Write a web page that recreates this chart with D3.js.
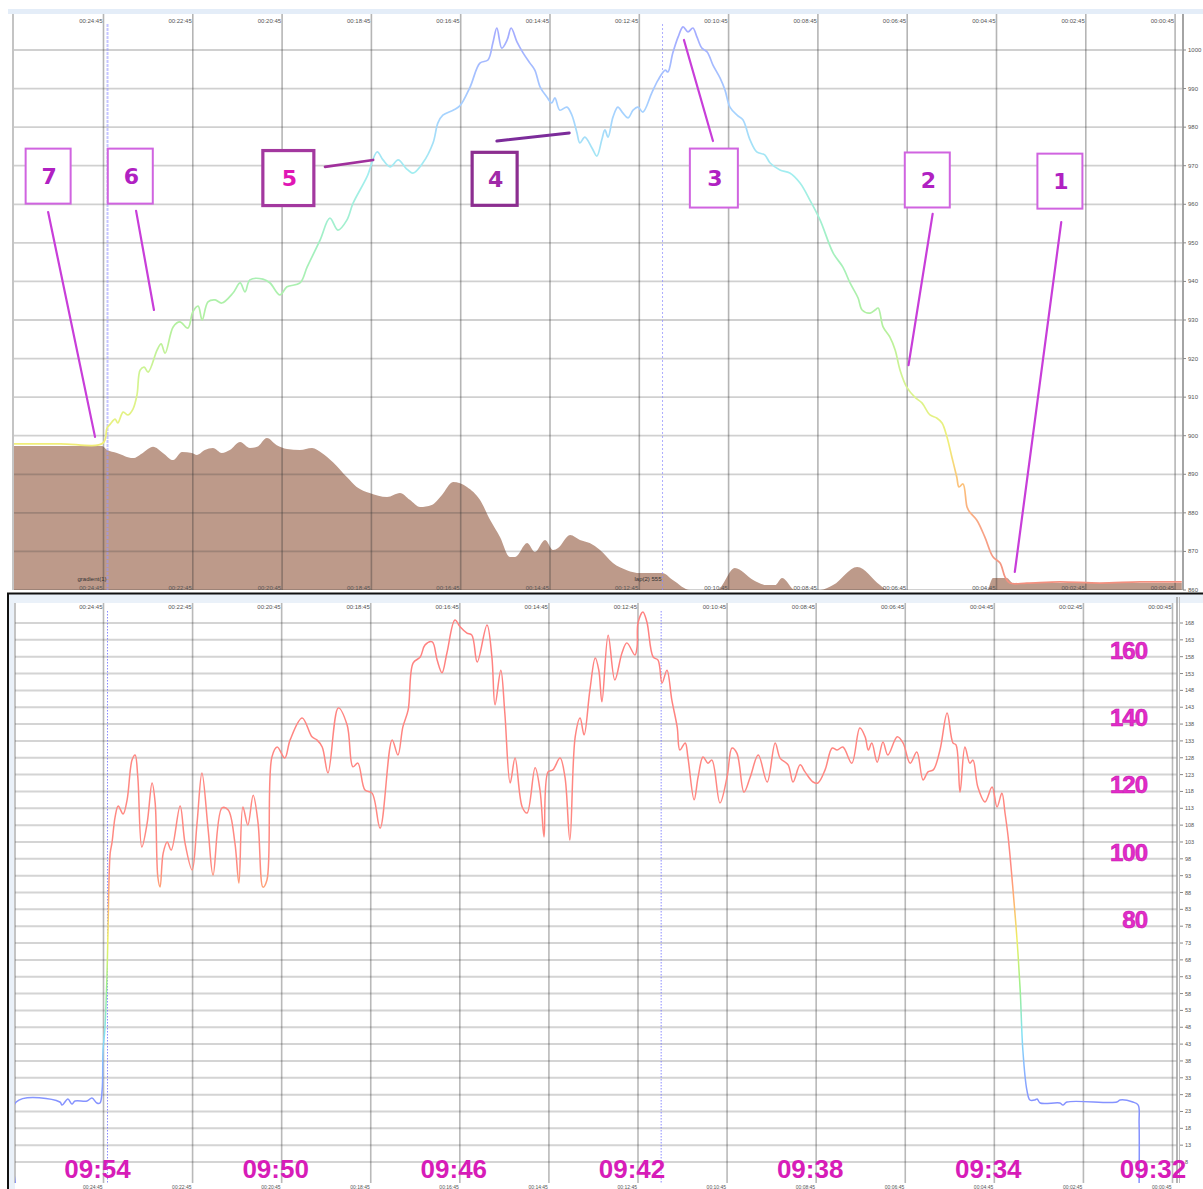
<!DOCTYPE html>
<html>
<head>
<meta charset="utf-8">
<script src="https://cdn.jsdelivr.net/npm/d3@7"></script>
<style>
  html, body { margin: 0; padding: 0; background: #ffffff; }
  svg { display: block; font-family: "Liberation Sans", Arial, sans-serif; }
</style>
</head>
<body>
<svg id="chart" width="1203" height="1189"></svg>
<script>
// ---------------------------------------------------------------
// Data. Times are clock minutes after 09:00; the time axis runs
// backwards (09:54 on the left, 09:32 towards the right).
// ---------------------------------------------------------------

// Altitude trace (m)
const altTime = [56.03,54.97,54.01,53.92,53.85,53.74,53.68,53.56,53.45,53.34,
  53.25,53.18,53.09,53.00,52.80,52.71,52.62,52.44,52.29,52.11,
  52.00,51.88,51.79,51.66,51.50,51.35,51.10,50.94,50.83,50.72,
  50.43,50.27,50.05,49.89,49.60,49.44,49.15,48.93,48.75,48.55,
  48.41,48.10,47.87,47.74,47.58,47.40,47.23,47.07,46.85,46.62,
  46.51,46.40,46.17,46.02,45.79,45.57,45.39,45.28,45.19,45.08,
  44.96,44.87,44.74,44.60,44.45,44.34,44.22,44.07,43.96,43.89,
  43.78,43.62,43.51,43.40,43.33,43.22,43.06,42.95,42.84,42.77,
  42.70,42.59,42.48,42.37,42.25,42.14,42.03,41.92,41.72,41.58,
  41.42,41.36,41.25,41.13,41.02,40.91,40.80,40.71,40.60,40.48,
  40.35,40.19,40.08,39.97,39.81,39.68,39.52,39.37,39.19,39.07,
  38.85,38.63,38.40,38.18,37.95,37.66,37.44,37.28,37.10,37.01,
  36.83,36.72,36.65,36.54,36.39,36.27,36.16,36.01,35.83,35.67,
  35.49,35.34,35.22,35.11,35.00,34.89,34.84,34.75,34.66,34.60,
  34.44,34.26,34.08,33.92,33.81,33.70,33.32,32.58,31.69,30.79,29.85];
const altValue = [897.9,897.9,898.1,902.0,903.0,904.3,903.3,906.1,905.4,906.9,
  910.6,917.0,917.8,916.5,922.2,923.8,921.4,928.2,929.5,927.9,
  932.1,933.6,930.0,934.7,935.2,934.4,937.0,939.6,937.3,940.4,
  940.6,939.6,936.5,938.6,939.6,943.7,950.7,956.4,953.3,955.9,
  960.3,967.1,973.6,971.5,969.7,971.5,969.4,968.1,970.7,975.9,
  981.1,983.1,984.4,985.5,990.4,996.6,997.4,1001.8,1005.7,1000.5,
  1002.6,1005.7,1002.1,999.2,996.6,994.8,990.4,987.8,986.3,987.6,
  984.4,985.2,983.1,978.7,975.9,977.4,974.6,972.5,976.7,979.3,
  977.4,982.6,985.2,983.7,982.4,984.4,985.2,983.9,988.9,992.2,
  994.8,994.3,999.2,1003.4,1006.0,1004.7,1005.7,1003.4,1000.5,999.5,
  996.1,992.7,989.6,985.2,983.1,981.9,976.7,973.6,972.8,970.7,
  968.9,968.1,965.5,961.1,955.9,947.4,943.7,939.6,935.7,932.6,
  931.8,932.6,933.1,928.2,925.6,922.2,917.0,912.6,910.0,908.5,
  905.4,904.6,903.3,899.7,894.5,889.3,886.7,887.5,881.5,880.2,
  878.1,873.7,868.6,867.0,863.4,861.8,861.8,862.1,861.8,862.1,862.1];

// Filled profile underneath the altitude trace
const areaTime = [56.03,54.03,53.92,53.70,53.34,53.12,52.89,52.67,52.44,52.24,
  52.02,51.91,51.73,51.55,51.35,51.17,50.94,50.72,50.56,50.34,
  50.12,49.89,49.60,49.33,49.11,48.86,48.55,48.33,48.04,47.65,
  47.36,47.14,46.91,46.65,46.42,46.17,45.86,45.57,45.34,45.12,
  44.90,44.78,44.51,44.34,44.11,43.93,43.82,43.55,43.33,43.11,
  42.88,42.59,42.28,41.98,41.49,41.25,40.86,40.26,39.86,39.45,
  39.14,38.96,38.80,38.51,37.95,37.66,37.12,36.61,36.45,34.21,
  34.08,33.77,33.63,29.85];
const areaValue = [5.0,5.0,4.86,4.76,4.58,4.76,4.97,4.76,4.51,4.79,
  4.76,4.69,4.86,4.93,4.76,4.86,5.14,4.93,4.97,5.28,
  5.03,4.90,4.86,4.93,4.76,4.44,3.92,3.58,3.37,3.23,
  3.37,3.13,2.88,2.95,3.30,3.75,3.58,3.13,2.43,1.84,
  1.15,1.15,1.63,1.32,1.74,1.39,1.46,1.91,1.74,1.63,
  1.39,0.94,0.69,0.59,0.59,0.35,0,0,0.76,0.35,
  0.17,0.17,0.42,0,0,0.17,0.80,0.17,0,0,
  0.42,0.42,0.24,0.24];

// Heart rate (bpm)
const hrTime = [55.96,55.96,54.98,54.93,54.80,54.71,54.64,54.37,54.26,54.15,
  54.08,54.03,54.01,53.97,53.92,53.90,53.85,53.81,53.74,53.67,
  53.56,53.47,53.36,53.29,53.23,53.14,53.02,52.91,52.84,52.78,
  52.73,52.66,52.57,52.48,52.28,52.17,52.01,51.90,51.79,51.65,
  51.54,51.34,51.20,51.05,50.96,50.87,50.76,50.64,50.53,50.42,
  50.33,50.22,50.10,49.93,49.81,49.54,49.32,49.21,49.09,48.96,
  48.73,48.53,48.40,48.29,48.13,47.97,47.79,47.52,47.39,47.28,
  47.16,47.05,46.89,46.78,46.62,46.51,46.40,46.29,46.11,45.99,
  45.84,45.73,45.61,45.39,45.28,45.21,45.08,44.99,44.87,44.76,
  44.60,44.49,44.31,44.20,44.11,44.02,43.91,43.75,43.64,43.53,
  43.41,43.30,43.21,43.08,42.96,42.88,42.81,42.67,42.52,42.36,
  42.25,42.07,42.02,42.00,41.89,41.80,41.66,41.55,41.46,41.35,
  41.24,41.12,41.06,40.94,40.88,40.74,40.65,40.54,40.43,40.34,
  40.16,40.00,39.89,39.78,39.62,39.48,39.30,39.10,38.92,38.81,
  38.63,38.52,38.36,38.25,38.07,37.96,37.80,37.64,37.53,37.40,
  37.20,37.02,36.90,36.83,36.75,36.63,36.50,36.39,36.18,36.05,
  35.89,35.74,35.60,35.49,35.37,35.22,35.06,34.93,34.86,34.77,
  34.66,34.55,34.48,34.37,34.21,34.05,33.94,33.83,33.76,33.69,
  33.58,33.49,33.42,33.36,33.27,33.20,33.09,33.04,32.97,32.53,
  32.46,32.37,31.25,31.18,30.89,30.77,30.75,30.75];
const hrValue = [0,25.8,25.8,24.9,26.7,25.2,26.1,26.1,27.0,25.5,
  25.5,29.4,41.3,47.2,64.1,76.0,99.7,102.7,110.4,113.7,
  111.3,115.5,127.3,128.8,122.3,101.5,108.6,120.5,114.6,92.6,
  89.6,99.7,103.0,100.6,113.7,102.7,94.7,108.6,123.5,106.6,
  93.2,113.1,112.5,102.7,90.8,113.4,108.0,116.9,108.6,89.6,
  91.7,128.2,131.2,127.9,133.3,139.8,134.2,133.3,131.2,123.5,
  142.8,137.7,125.3,126.4,118.4,117.5,107.1,133.3,128.8,137.1,
  142.2,156.1,157.9,161.5,162.4,157.0,153.2,159.1,168.9,166.8,
  165.0,164.4,156.4,167.4,157.9,143.7,154.0,141.3,120.5,127.9,
  113.4,111.6,125.0,118.4,104.5,123.8,124.4,127.9,122.3,103.6,
  134.2,139.8,134.8,148.1,157.6,154.0,144.6,164.4,151.1,159.1,
  162.1,158.5,160.9,168.0,171.3,168.3,157.9,157.0,150.2,154.0,
  145.1,137.1,130.3,132.4,128.2,115.5,122.3,128.2,126.4,127.3,
  114.6,122.3,130.9,129.4,117.8,122.3,128.8,120.8,132.4,127.9,
  125.9,120.8,125.9,123.8,120.8,120.5,124.4,130.9,130.3,131.2,
  126.4,136.8,134.2,130.3,132.4,126.7,132.7,128.8,134.2,132.4,
  126.4,129.7,121.4,123.8,124.4,130.3,141.3,132.4,131.8,117.8,
  131.2,126.4,127.3,119.3,114.9,119.3,113.4,117.5,111.6,104.5,
  88.7,73.9,59.1,41.3,29.4,26.4,26.4,26.7,25.5,25.5,
  24.9,25.8,25.8,26.4,25.8,24.9,19.6,0];

// Lap markers
const markerTimes = [53.91, 41.48];
const markerNames = ["gradient(1)", "lap(2) 555"];

// Axis ticks
const gridTimes = [54,52,50,48,46,44,42,40,38,36,34,32,30];
const elapsedTicks = ["00:24:45","00:22:45","00:20:45","00:18:45","00:16:45","00:14:45",
  "00:12:45","00:10:45","00:08:45","00:06:45","00:04:45","00:02:45","00:00:45"];
const altTicks = [1000,990,980,970,960,950,940,930,920,910,900,890,880,870,860];
const hrTicks = [168,163,158,153,148,143,138,133,128,123,118,113,108,103,98,93,88,
  83,78,73,68,63,58,53,48,43,38,33,28,23,18,13,8];
const hrLabels = [160,140,120,100,80];
const clockTimes = [54,50,46,42,38,34,32];
const clockLabels = ["09:54","09:50","09:46","09:42","09:38","09:34","09:32"];

// Numbered callouts on the altitude panel (box centre, leader start, leader end)
const callouts = [
  {label:"7", boxT:55.24, boxA:967.3, fromT:55.24, fromA:958.0, toT:54.19, toA:899.7},
  {label:"6", boxT:53.40, boxA:967.3, fromT:53.27, fromA:958.3, toT:52.87, toA:932.6},
  {label:"5", boxT:49.86, boxA:966.8, fromT:49.04, fromA:969.7, toT:47.96, toA:971.5},
  {label:"4", boxT:45.24, boxA:966.6, fromT:45.19, fromA:976.4, toT:43.57, toA:978.5},
  {label:"3", boxT:40.33, boxA:966.8, fromT:40.35, fromA:976.4, toT:41.00, toA:1002.6},
  {label:"2", boxT:35.55, boxA:966.3, fromT:35.43, fromA:957.5, toT:35.97, toA:918.3},
  {label:"1", boxT:32.58, boxA:966.0, fromT:32.55, fromA:955.4, toT:33.59, toA:864.7}
];

// ---------------------------------------------------------------
// Styles
// ---------------------------------------------------------------
const altColorStops = [[862,"#f3907f"],[876,"#f8a486"],[887,"#fcc07a"],[898,"#f0ee78"],
  [912,"#d8f48e"],[928,"#b4f09e"],[950,"#a2f0c2"],[968,"#a2eef0"],[984,"#a6d2ff"],[1004,"#a4acff"]];
const hrColorStops = [[26,"#8592ff"],[36,"#88b6ff"],[46,"#84e2f4"],[60,"#9cf08a"],
  [74,"#eef062"],[86,"#ffb070"],[96,"#ff8a82"],[175,"#ff8080"]];
const boxStyle = {
  base: {w:45, h:55, stroke:"#d064e0", sw:2, text:"#b021c2"},
  "5": {w:51, h:55, stroke:"#a3389f", sw:3.2, text:"#e016b4"},
  "4": {w:45, h:53, stroke:"#8c2e90", sw:3.2, text:"#a02aa8"},
  "3": {w:48, h:59}
};
const leaderStyle = {
  base: {stroke:"#c83ed9", sw:2.2},
  "4": {stroke:"#7c2c9a", sw:3},
  "5": {stroke:"#a0309c", sw:2.6}
};
const MAGENTA = "#d71cb8";

// ---------------------------------------------------------------
// Layout and scales
// ---------------------------------------------------------------
const W = 1203, H = 1189;
const T = {left: 13, right: 1183, top: 14, bottom: 590};
const B = {left: 15, right: 1177, top: 603, bottom: 1183};

const xTop = d3.scaleLinear().domain([54, 30]).range([103.5, 1175.1]);
const yAlt = d3.scaleLinear().domain([1000, 860]).range([50, 590]);
const yArea = d3.scaleLinear().domain([0, 20]).range([590, 14]);

const xBot = d3.scaleLinear().domain([54, 30]).range([103.5, 1172.5]);
const yHr = d3.scaleLinear().domain([8, 168]).range([1162, 623]);

const altData = altTime.map((t, i) => ({t, v: altValue[i]}));
const areaData = areaTime.map((t, i) => ({t, v: areaValue[i]}));
const hrData = hrTime.map((t, i) => ({t, v: hrValue[i]}));

const svg = d3.select("#chart");
const defs = svg.append("defs");

function addClip(id, r) {
  defs.append("clipPath").attr("id", id).append("rect")
    .attr("x", r.left).attr("y", r.top)
    .attr("width", r.right - r.left).attr("height", r.bottom - r.top);
}
addClip("clipTop", T);
addClip("clipBot", B);

function addGradient(id, stops, yScale) {
  const lo = stops[0][0], hi = stops[stops.length - 1][0];
  const y1 = yScale(lo), y2 = yScale(hi);
  const g = defs.append("linearGradient").attr("id", id)
    .attr("gradientUnits", "userSpaceOnUse")
    .attr("x1", 0).attr("x2", 0).attr("y1", y1).attr("y2", y2);
  g.selectAll("stop").data(stops).join("stop")
    .attr("offset", d => (yScale(d[0]) - y1) / (y2 - y1))
    .attr("stop-color", d => d[1]);
}
addGradient("altGrad", altColorStops, yAlt);
addGradient("hrGrad", hrColorStops, yHr);

// ---------------------------------------------------------------
// Upper panel: altitude trace over filled profile
// ---------------------------------------------------------------
svg.append("rect").attr("x", 8).attr("y", 9).attr("width", W - 8).attr("height", 5)
  .attr("fill", "#e4edf8");
svg.append("rect").attr("x", T.left).attr("y", T.top)
  .attr("width", T.right - T.left).attr("height", T.bottom - T.top).attr("fill", "#ffffff");

const gTop = svg.append("g").attr("clip-path", "url(#clipTop)");

gTop.append("path").datum(areaData)
  .attr("d", d3.area().curve(d3.curveMonotoneX)
    .x(d => xTop(d.t)).y0(yArea(0)).y1(d => yArea(d.v)))
  .attr("fill", "#bd9a8a");

gTop.append("g").selectAll("line").data(altTicks).join("line")
  .attr("x1", T.left).attr("x2", T.right)
  .attr("y1", d => yAlt(d)).attr("y2", d => yAlt(d))
  .attr("stroke", "rgba(60,60,60,0.24)").attr("stroke-width", 1.8);

gTop.append("g").selectAll("line").data(gridTimes).join("line")
  .attr("x1", d => xTop(d)).attr("x2", d => xTop(d))
  .attr("y1", T.top).attr("y2", T.bottom)
  .attr("stroke", "rgba(50,50,50,0.36)").attr("stroke-width", 1.6);

gTop.append("g").selectAll("line").data(markerTimes).join("line")
  .attr("x1", d => xTop(d)).attr("x2", d => xTop(d))
  .attr("y1", T.top + 10).attr("y2", T.bottom)
  .attr("stroke", (d, i) => i === 0 ? "rgba(150,150,255,0.55)" : "rgba(140,140,255,0.7)")
  .attr("stroke-width", (d, i) => i === 0 ? 2 : 1)
  .attr("stroke-dasharray", (d, i) => i === 0 ? "3,1" : "2,2");

gTop.append("path").datum(altData)
  .attr("d", d3.line().curve(d3.curveCatmullRom.alpha(0.5))
    .x(d => xTop(d.t)).y(d => yAlt(d.v)))
  .attr("fill", "none").attr("stroke", "url(#altGrad)").attr("stroke-width", 1.7);

// plot frame
svg.append("line").attr("x1", T.left).attr("x2", T.left).attr("y1", T.top).attr("y2", T.bottom)
  .attr("stroke", "#c4c4c4").attr("stroke-width", 2);
svg.append("line").attr("x1", T.right).attr("x2", T.right).attr("y1", T.top).attr("y2", T.bottom)
  .attr("stroke", "#a4a4a4").attr("stroke-width", 2);

// right-hand tiny tick labels
const topRight = svg.append("g");
topRight.selectAll("line").data(altTicks).join("line")
  .attr("x1", T.right).attr("x2", T.right + 3)
  .attr("y1", d => yAlt(d)).attr("y2", d => yAlt(d))
  .attr("stroke", "#888").attr("stroke-width", 1);
topRight.selectAll("text").data(altTicks).join("text")
  .attr("x", T.right + 5).attr("y", d => yAlt(d) + 2)
  .attr("font-size", 6).attr("fill", "#555").text(d => d);

// elapsed-time tick labels along top and bottom edges
function timeLabels(scale, y, size) {
  svg.append("g").selectAll("text").data(gridTimes).join("text")
    .attr("x", d => scale(d) - 1).attr("y", y)
    .attr("text-anchor", "end").attr("font-size", size).attr("fill", "#555")
    .text((d, i) => elapsedTicks[i]);
}
timeLabels(xTop, 23, 6);
timeLabels(xTop, 590, 6);

svg.append("g").selectAll("text").data(markerTimes).join("text")
  .attr("x", d => xTop(d) - 1).attr("y", 581)
  .attr("text-anchor", "end").attr("font-size", 6).attr("fill", "#333")
  .text((d, i) => markerNames[i]);

// callouts
const gCall = svg.append("g");
callouts.forEach(c => {
  const bs = Object.assign({}, boxStyle.base, boxStyle[c.label] || {});
  const ls = Object.assign({}, leaderStyle.base, leaderStyle[c.label] || {});
  gCall.append("line")
    .attr("x1", xTop(c.fromT)).attr("y1", yAlt(c.fromA))
    .attr("x2", xTop(c.toT)).attr("y2", yAlt(c.toA))
    .attr("stroke", ls.stroke).attr("stroke-width", ls.sw).attr("stroke-linecap", "round");
  const cx = xTop(c.boxT), cy = yAlt(c.boxA);
  gCall.append("rect")
    .attr("x", cx - bs.w / 2).attr("y", cy - bs.h / 2)
    .attr("width", bs.w).attr("height", bs.h)
    .attr("fill", "#ffffff").attr("stroke", bs.stroke).attr("stroke-width", bs.sw);
  gCall.append("text")
    .attr("x", cx + 1).attr("y", cy + 8)
    .attr("text-anchor", "middle")
    .attr("font-family", "'DejaVu Sans', sans-serif").attr("font-weight", "bold")
    .attr("font-size", 22).attr("fill", bs.text).text(c.label);
});

// ---------------------------------------------------------------
// Lower panel: heart rate
// ---------------------------------------------------------------
svg.append("rect").attr("x", 8).attr("y", 594).attr("width", W - 8).attr("height", H - 594)
  .attr("fill", "#eaf1f9");
svg.append("rect").attr("x", B.left).attr("y", B.top)
  .attr("width", W - B.left).attr("height", H - B.top).attr("fill", "#ffffff");
svg.append("line").attr("x1", 7).attr("x2", W).attr("y1", 593.5).attr("y2", 593.5)
  .attr("stroke", "#111").attr("stroke-width", 2);
svg.append("line").attr("x1", 8).attr("x2", 8).attr("y1", 593).attr("y2", H)
  .attr("stroke", "#111").attr("stroke-width", 2);

// left plot edge sits under the trace
svg.append("line").attr("x1", B.left).attr("x2", B.left).attr("y1", B.top).attr("y2", B.bottom)
  .attr("stroke", "#c4c4c4").attr("stroke-width", 2);

const gBot = svg.append("g").attr("clip-path", "url(#clipBot)");

gBot.append("g").selectAll("line").data(hrTicks).join("line")
  .attr("x1", B.left).attr("x2", B.right)
  .attr("y1", d => yHr(d)).attr("y2", d => yHr(d))
  .attr("stroke", "rgba(60,60,60,0.22)").attr("stroke-width", 2);

gBot.append("g").selectAll("line").data(gridTimes).join("line")
  .attr("x1", d => xBot(d)).attr("x2", d => xBot(d))
  .attr("y1", B.top).attr("y2", B.bottom)
  .attr("stroke", "rgba(50,50,50,0.34)").attr("stroke-width", 1.6);

gBot.append("g").selectAll("line").data(markerTimes).join("line")
  .attr("x1", d => xBot(d)).attr("x2", d => xBot(d))
  .attr("y1", B.top + 8).attr("y2", B.bottom)
  .attr("stroke", "rgba(110,110,255,0.8)").attr("stroke-width", 1)
  .attr("stroke-dasharray", "1.5,1.5");

gBot.append("path").datum(hrData)
  .attr("d", d3.line().curve(d3.curveCatmullRom.alpha(0.5))
    .x(d => xBot(d.t)).y(d => yHr(d.v)))
  .attr("fill", "none").attr("stroke", "url(#hrGrad)").attr("stroke-width", 1.5);

svg.append("line").attr("x1", B.right).attr("x2", B.right).attr("y1", B.top - 6).attr("y2", B.bottom)
  .attr("stroke", "#9c9c9c").attr("stroke-width", 1.5);
svg.append("line").attr("x1", B.right + 2.5).attr("x2", B.right + 2.5).attr("y1", B.top - 6).attr("y2", B.bottom)
  .attr("stroke", "#bdbdbd").attr("stroke-width", 1);

const botRight = svg.append("g");
botRight.selectAll("line").data(hrTicks).join("line")
  .attr("x1", B.right + 3).attr("x2", B.right + 6)
  .attr("y1", d => yHr(d)).attr("y2", d => yHr(d))
  .attr("stroke", "#888").attr("stroke-width", 1);
botRight.selectAll("text").data(hrTicks).join("text")
  .attr("x", B.right + 8).attr("y", d => yHr(d) + 2)
  .attr("font-size", 5.5).attr("fill", "#555").text(d => d);

timeLabels(xBot, 609, 6);
timeLabels(xBot, 1188.5, 5);

// large heart-rate labels
svg.append("g").selectAll("text").data(hrLabels).join("text")
  .attr("x", 1147).attr("y", d => yHr(d)).attr("dy", "0.36em")
  .attr("text-anchor", "end")
  .attr("font-weight", "bold").attr("font-size", 24)
  .attr("letter-spacing", -1)
  .attr("fill", "#e22cc8").attr("stroke", "#c812b0").attr("stroke-width", 0.6)
  .text(d => d);

// large clock labels along the bottom; the last one sits at the right edge
const lastClock = clockTimes.length - 1;
svg.append("g").selectAll("text").data(clockTimes).join("text")
  .attr("x", (d, i) => i === lastClock ? W - 50 : xBot(d) - 6).attr("y", 1177.5)
  .attr("text-anchor", "middle")
  .attr("font-weight", "bold").attr("font-size", 26)
  .attr("fill", MAGENTA)
  .text((d, i) => clockLabels[i]);
</script>
</body>
</html>
